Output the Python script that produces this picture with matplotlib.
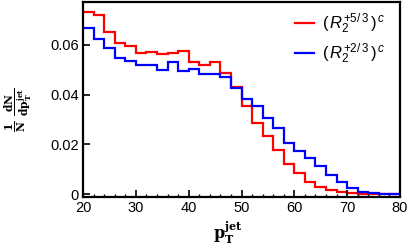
import numpy as np
import matplotlib
matplotlib.use("Agg")
import matplotlib.pyplot as plt
from matplotlib.ticker import MultipleLocator

bin_edges = list(range(20, 82, 2))
red_vals = [0.0733, 0.0721, 0.0652, 0.0608, 0.0595, 0.0566, 0.0572, 0.0562, 0.0568, 0.0575,
            0.0532, 0.0521, 0.0532, 0.0488, 0.0431, 0.0356, 0.0284, 0.0233, 0.0177, 0.0119,
            0.0083, 0.0049, 0.0029, 0.0016, 0.0009, 0.0005, 0.0002, 0.0001, 0.0001, 0.0001]
blue_vals = [0.0670, 0.0626, 0.0586, 0.0546, 0.0536, 0.0521, 0.0521, 0.0498, 0.0532, 0.0496,
             0.0502, 0.0482, 0.0485, 0.0471, 0.0428, 0.0384, 0.0354, 0.0305, 0.0266, 0.0206,
             0.0172, 0.0146, 0.0112, 0.0078, 0.0049, 0.0025, 0.0009, 0.0003, 0.0002, 0.0002]
labels = [r'$(\,R_2^{+5/\,3}\,)^{\,c}$', r'$(\,R_2^{+2/\,3}\,)^{\,c}$']
xticks = [20, 30, 40, 50, 60, 70, 80]
yticks = [0, 0.02, 0.04, 0.06]
ytick_labels = ['0', '0.02', '0.04', '0.06']

plt.rcParams['font.family'] = ['Liberation Sans', 'DejaVu Sans']
plt.rcParams['mathtext.fontset'] = 'custom'
plt.rcParams['mathtext.rm'] = 'Liberation Sans'
plt.rcParams['mathtext.it'] = 'Liberation Sans:italic'

fig = plt.figure(figsize=(4.10, 2.48), dpi=100)
ax = fig.add_axes([83/410, 1-197/248, 317/410, 195/248])

ax.stairs(red_vals, bin_edges, color='#ff0000', lw=1.6, label=labels[0], baseline=None)
ax.stairs(blue_vals, bin_edges, color='#0000ff', lw=1.6, label=labels[1], baseline=None)

ax.set_xlim(20, 80)
ax.set_ylim(-0.0012, 0.0773)
ax.set_xticks(xticks)
ax.set_yticks(yticks)
ax.set_yticklabels(ytick_labels)
ax.xaxis.set_minor_locator(MultipleLocator(2))
ax.tick_params(axis='both', which='major', direction='in', length=5, width=1.2,
               labelsize=10.5, top=False, right=False, pad=3)
ax.tick_params(axis='x', which='minor', direction='in', length=2.5, width=1.0, top=False)
for s in ax.spines.values():
    s.set_linewidth(1.6)

ax.legend(loc='upper right', frameon=False, fontsize=12, handlelength=1.15,
          handletextpad=0.45, labelspacing=0.32, borderaxespad=0.2,
          bbox_to_anchor=(0.985, 1.0))

fig.text(0.045, 1-110/248, r'$\mathbf{\frac{1}{N}\ \frac{dN}{dp_T^{jet}}}$',
         rotation=90, ha='center', va='center', fontsize=11,
         math_fontfamily='dejavuserif')
fig.text(228/410, 1-233/248, r'$\mathbf{p_T^{jet}}$', ha='center', va='center',
         fontsize=11.5, math_fontfamily='dejavuserif')

fig.savefig('out.png', dpi=100)
